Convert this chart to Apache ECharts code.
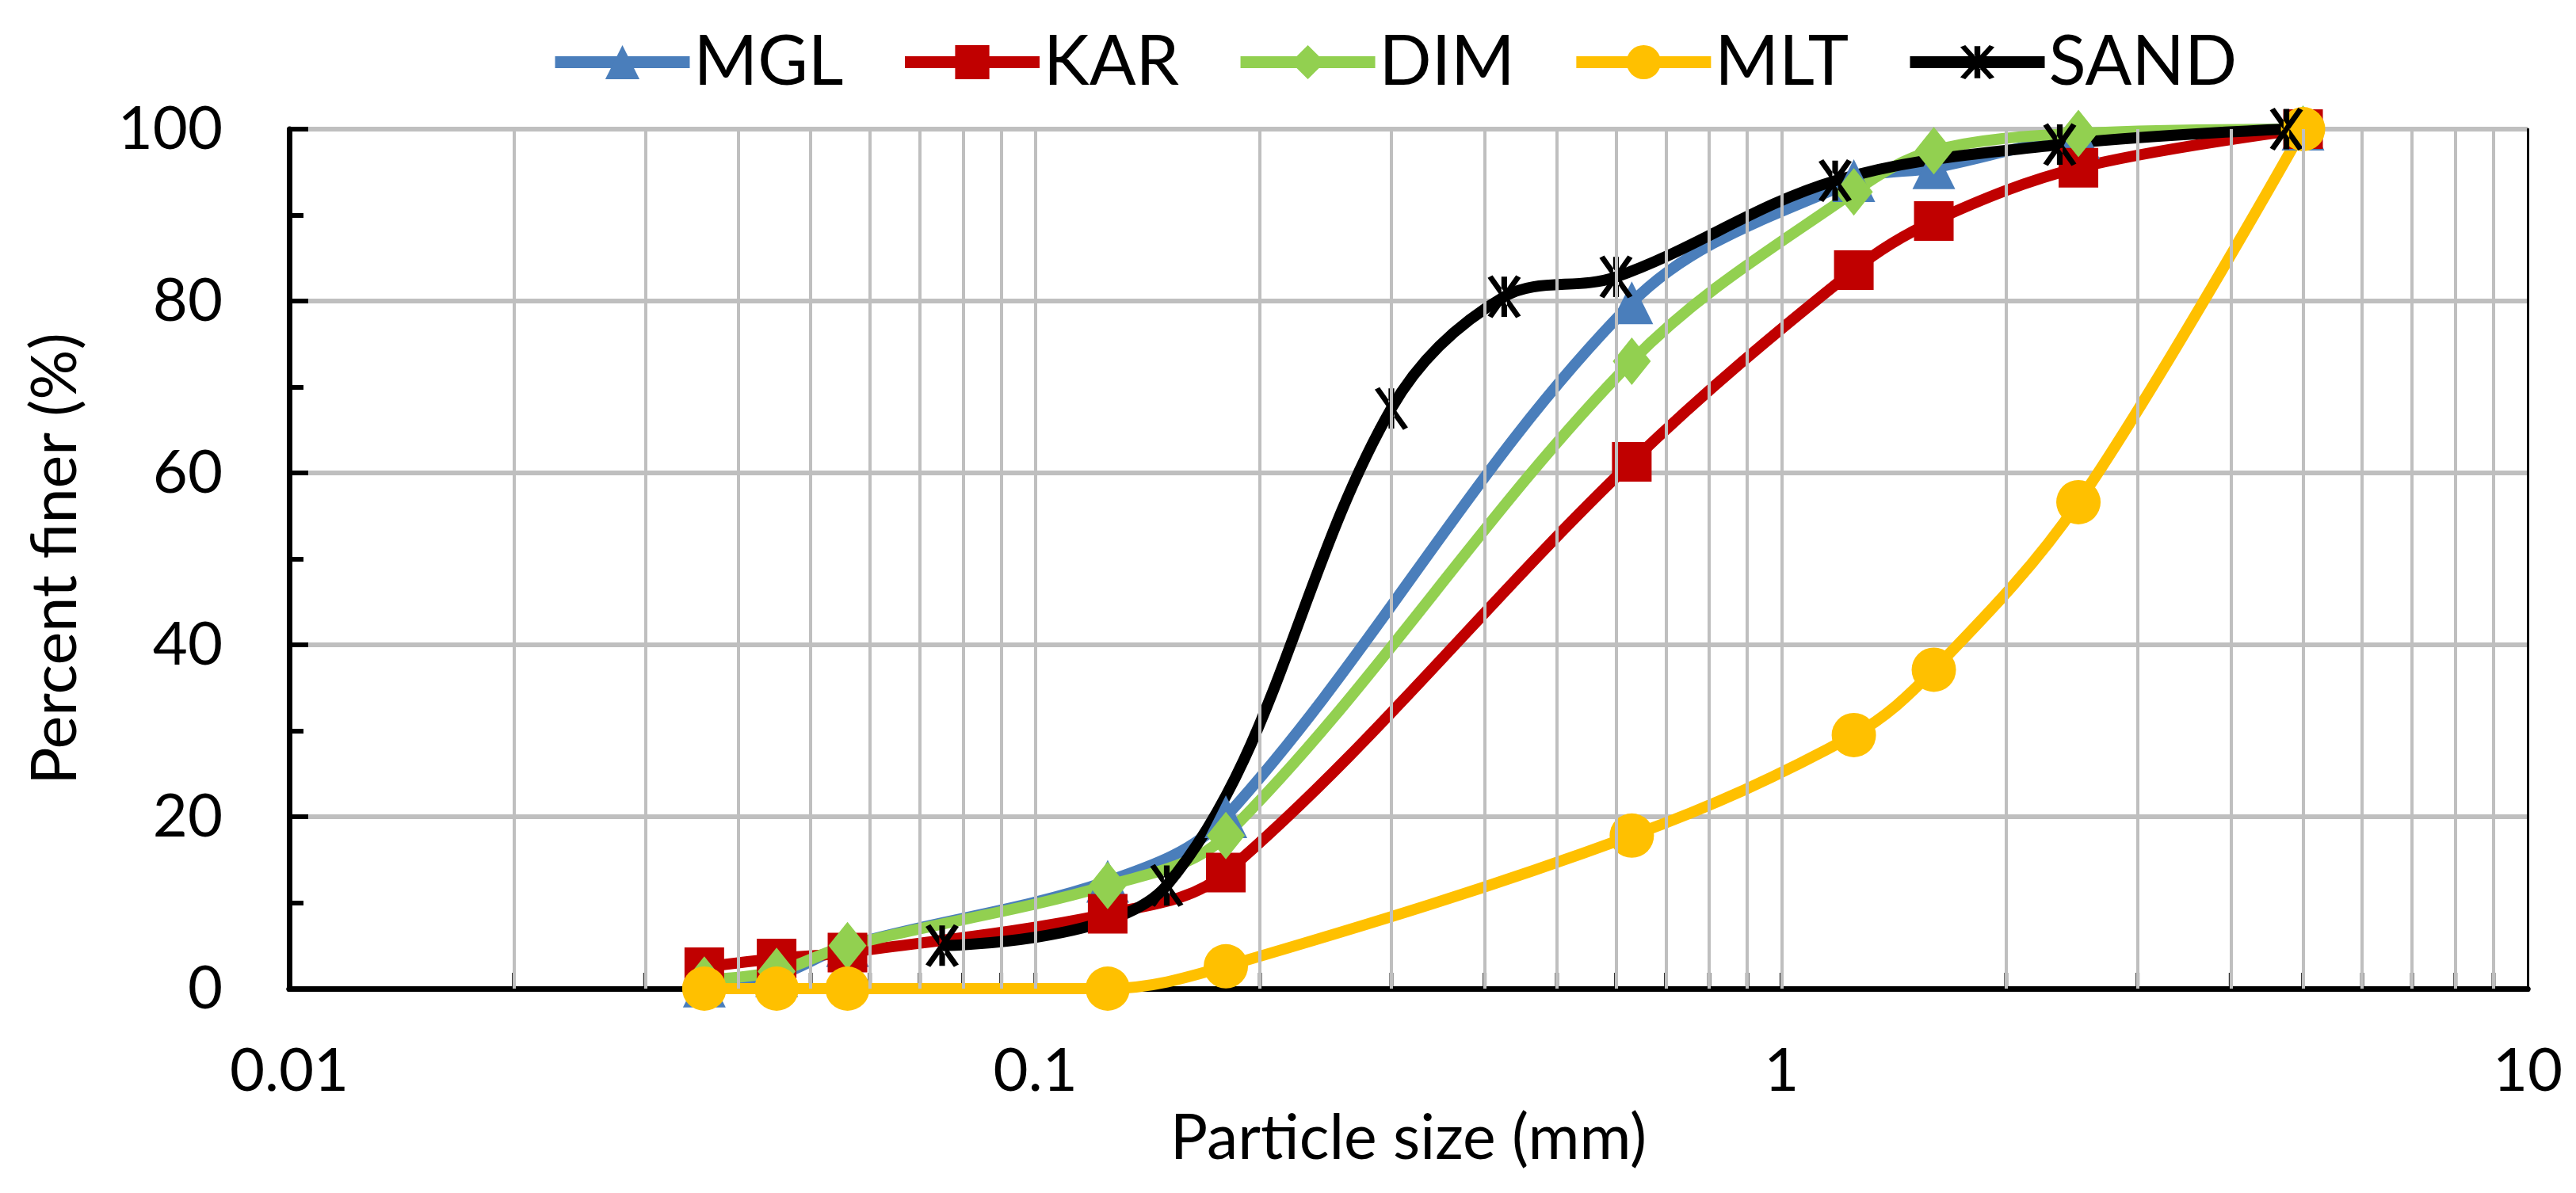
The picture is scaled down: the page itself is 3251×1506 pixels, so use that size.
<!DOCTYPE html>
<html>
<head>
<meta charset="utf-8">
<title>Particle size distribution</title>
<script src="https://cdn.jsdelivr.net/npm/echarts@6.0.0/dist/echarts.min.js"></script>
<style>
    html, body { margin: 0; padding: 0; background: #fff; }
    #main { width: 3251px; height: 1506px; }
</style>
</head>
<body>
<div id="main"></div>
<script>
// sieve sizes (mm) and percent passing
var sieveSizes = [0.036, 0.045, 0.056, 0.125, 0.18, 0.63, 1.25, 1.6, 2.5, 5];
var sandSizes = [0.075, 0.15, 0.3, 0.425, 0.6, 1.18, 2.36, 4.75];

var mglValues = [0.3, 1.5, 5, 12.5, 20, 79.8, 94, 95.5, 99, 100];
var karValues = [2.5, 3.5, 4.2, 8.7, 13.5, 61.3, 83.6, 89.3, 95.5, 100];
var dimValues = [1, 2, 5, 12, 17.8, 73, 92.7, 97.5, 99.5, 100];
var mltValues = [0, 0, 0, 0, 2.6, 17.8, 29.5, 37.1, 56.6, 100];
var sandValues = [5, 12, 67.5, 80.5, 82.8, 94, 98.2, 100];

var seriesNames = ['MGL', 'KAR', 'DIM', 'MLT', 'SAND'];
var seriesColors = ['#4A7EBB', '#C00000', '#92D050', '#FFC000', '#000000'];

var xMin = 0.01, xMax = 10;
var font = 'Lato';

// asterisk marker like excel's "*" marker
var starPath = 'path://M-7.03,-9.38L4.97,10.62L7.03,9.38L-4.97,-10.62Z' +
    'M7.03,-9.38L-4.97,10.62L-7.03,9.38L4.97,-10.62Z' +
    'M-1.2,-10L1.2,-10L1.2,10L-1.2,10Z';

function pairs(xs, ys) {
    var out = [];
    for (var i = 0; i < xs.length; i++) {
        out.push([xs[i], ys[i]]);
    }
    return out;
}

// log paper gridlines: 1..9 x every decade
var gridValues = [];
for (var d = xMin; d < xMax * 0.999; d *= 10) {
    for (var k = 1; k <= 9; k++) {
        var v = +(d * k).toPrecision(3);
        if (v > xMin) gridValues.push(v);
    }
}

function lineSeries(name, data, color, symbol, size) {
    return {
        name: name,
        type: 'line',
        data: data,
        smooth: 0.35,
        symbol: symbol,
        symbolSize: size,
        z: 3,
        lineStyle: { color: color, width: 14 },
        itemStyle: { color: color },
        emphasis: { disabled: true },
        animation: false
    };
}

var myChart = echarts.init(document.getElementById('main'));

var option = {
    backgroundColor: '#ffffff',
    legend: {
        top: 30,
        left: 688,
        itemWidth: 170,
        itemHeight: 54,
        itemGap: 70,
        lineStyle: { width: 15 },
        textStyle: { fontFamily: font, fontSize: 87, color: '#000' },
        data: seriesNames
    },
    grid: {
        left: 365,
        right: 61,
        top: 163,
        bottom: 258,
        containLabel: false
    },
    xAxis: [{
        type: 'log',
        logBase: 10,
        min: xMin,
        max: xMax,
        name: 'Particle size (mm)',
        nameLocation: 'middle',
        nameGap: 150,
        nameTextStyle: { fontFamily: font, fontSize: 79, color: '#000' },
        axisLine: { show: true, lineStyle: { color: '#000', width: 7 } },
        axisTick: { show: false },
        axisLabel: {
            fontFamily: font, fontSize: 76, color: '#000', margin: 66,
            formatter: function (value) {
                return String(+value.toPrecision(3));
            }
        },
        splitLine: { show: false }
    }, {
        type: 'log',
        logBase: 10,
        min: xMin,
        max: xMax,
        position: 'top',
        axisLine: { show: true, lineStyle: { color: '#000', width: 7 } },
        axisTick: { show: false },
        axisLabel: { show: false },
        splitLine: { show: false }
    }],
    yAxis: [{
        type: 'value',
        min: 0,
        max: 100,
        interval: 20,
        name: 'Percent finer (%)',
        nameLocation: 'middle',
        nameGap: 255,
        nameTextStyle: { fontFamily: font, fontSize: 79, color: '#000' },
        axisLine: { show: true, lineStyle: { color: '#000', width: 7 } },
        axisTick: { show: true, inside: true, length: 24, lineStyle: { color: '#000', width: 6 } },
        minorTick: { show: true, splitNumber: 2, length: 18, lineStyle: { color: '#000', width: 6 } },
        axisLabel: { fontFamily: font, fontSize: 76, color: '#000', margin: 84 },
        splitLine: { show: true, lineStyle: { color: '#BFBFBF', width: 6 } }
    }, {
        type: 'value',
        min: 0,
        max: 100,
        position: 'right',
        axisLine: { show: true, lineStyle: { color: '#000', width: 3 } },
        axisTick: { show: false },
        axisLabel: { show: false },
        splitLine: { show: false }
    }],
    series: [
        {
            // vertical log gridlines and the small ticks sitting on the x axis
            name: 'grid',
            type: 'scatter',
            data: gridValues.map(function (v) { return [v, 0]; }),
            symbol: 'rect',
            symbolSize: [5, 20],
            symbolOffset: [0, -10],
            itemStyle: { color: '#000' },
            silent: true,
            z: 1,
            animation: false,
            markLine: {
                silent: true,
                symbol: ['none', 'none'],
                label: { show: false },
                lineStyle: { color: '#BFBFBF', width: 4, type: 'solid' },
                data: gridValues.filter(function (v) { return v < xMax; }).map(function (v) {
                    return { xAxis: v };
                }),
                animation: false
            }
        },
        lineSeries('MGL', pairs(sieveSizes, mglValues), seriesColors[0], 'triangle', 54),
        lineSeries('KAR', pairs(sieveSizes, karValues), seriesColors[1], 'rect', 50),
        lineSeries('DIM', pairs(sieveSizes, dimValues), seriesColors[2], 'diamond', [48, 60]),
        lineSeries('MLT', pairs(sieveSizes, mltValues), seriesColors[3], 'circle', 56),
        lineSeries('SAND', pairs(sandSizes, sandValues), seriesColors[4], starPath, [42, 54])
    ]
};

myChart.setOption(option);
</script>
</body>
</html>
